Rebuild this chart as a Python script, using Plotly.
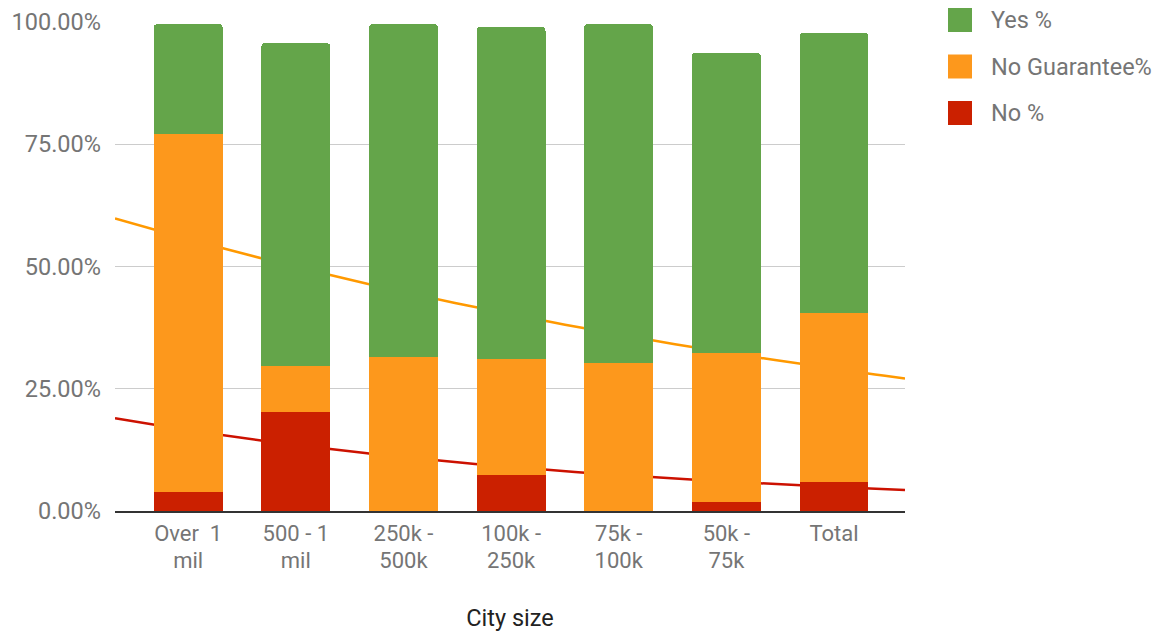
import numpy as np
import plotly.graph_objects as go

categories = ["Over  1\nmil", "500 - 1\nmil", "250k -\n500k", "100k -\n250k",
              "75k -\n100k", "50k -\n75k", "Total"]
no_pct = [3.9, 20.2, 0.0, 7.3, 0.0, 1.8, 5.9]
no_guarantee_pct = [73.2, 9.4, 31.4, 23.7, 30.2, 30.6, 34.5]
yes_pct = [22.5, 66.1, 68.2, 68.0, 69.4, 61.3, 57.4]

# trendline values read at each category position
trend_ng = [55.6, 49.9, 44.8, 40.2, 36.1, 32.4, 29.1]
trend_no = [16.5, 13.5, 11.0, 9.0, 7.4, 6.0, 4.9]

y_ticks = [0, 25, 50, 75, 100]
y_tick_labels = ["0.00%", "25.00%", "50.00%", "75.00%", "100.00%"]

series_names = ["Yes %", "No Guarantee%", "No %"]

GREEN = "#64a54a"
ORANGE = "#fd981c"
RED = "#cb2000"
TEXT = "#757575"
FONT = "Roboto, Arial, sans-serif"
FS = 23.5
FSX = 22

W, H = 1162, 633
L, R, T, B = 115, 905, 22, 511  # plot area in pixels

line1 = [c.split("\n")[0] for c in categories]
line2 = [c.split("\n")[1] if "\n" in c else "" for c in categories]

xpos = np.arange(len(categories))
x_range = [-0.68, 6.66]
xd = np.linspace(x_range[0], x_range[1], 80)


def exp_curve(vals):
    b, a = np.polyfit(xpos, np.log(vals), 1)
    return np.exp(a + b * xd)


def px(xp):
    return (xp - L) / (R - L)


def py(yp):
    return (B - yp) / (B - T)


fig = go.Figure()
# trendlines on the main axes (drawn beneath the overlaying bar axes)
fig.add_trace(go.Scatter(x=xd, y=exp_curve(trend_ng), mode="lines", xaxis="x", yaxis="y",
                         line=dict(color="#ff9900", width=2.5), showlegend=False, hoverinfo="skip"))
fig.add_trace(go.Scatter(x=xd, y=exp_curve(trend_no), mode="lines", xaxis="x", yaxis="y",
                         line=dict(color="#cc1100", width=2.5), showlegend=False, hoverinfo="skip"))

for name, vals, col in [("No %", no_pct, RED),
                        ("No Guarantee%", no_guarantee_pct, ORANGE),
                        ("Yes %", yes_pct, GREEN)]:
    fig.add_trace(go.Bar(x=xpos, y=vals, name=name, xaxis="x2", yaxis="y2",
                         marker=dict(color=col, line=dict(width=0)),
                         width=0.64, showlegend=False))

# carrier for the second line of category labels
fig.add_trace(go.Scatter(x=[0], y=[None], xaxis="x3", yaxis="y", mode="markers",
                         showlegend=False, hoverinfo="skip"))

# legend drawn as swatches + text
legend_colors = [GREEN, ORANGE, RED]
legend_y = [20, 66.5, 113]
shapes = []
annotations = []
for name, col, yc in zip(series_names, legend_colors, legend_y):
    shapes.append(dict(type="rect", xref="paper", yref="paper",
                       x0=px(948), x1=px(972), y0=py(yc + 12), y1=py(yc - 12),
                       fillcolor=col, line=dict(width=0), layer="above"))
    annotations.append(dict(xref="paper", yref="paper", x=px(989), y=py(yc), text=name,
                            showarrow=False, xanchor="left", yanchor="middle",
                            font=dict(family=FONT, size=FS, color=TEXT)))

common_x = dict(range=x_range, tickmode="array", tickvals=list(xpos),
                showgrid=False, zeroline=False, ticks="")

fig.update_layout(
    width=W, height=H,
    barmode="stack",
    barcornerradius=4,
    plot_bgcolor="white", paper_bgcolor="white",
    margin=dict(l=L, r=W - R, t=T, b=H - B, autoexpand=False),
    font=dict(family=FONT, size=FS, color=TEXT),
    showlegend=False,
    shapes=shapes,
    annotations=annotations,
    xaxis=dict(**common_x, ticktext=line1, showline=True, linecolor="#333333", linewidth=2,
               tickfont=dict(size=FSX, color=TEXT), ticklabelstandoff=2),
    xaxis2=dict(**common_x, overlaying="x", showticklabels=False, showline=False),
    xaxis3=dict(**common_x, ticktext=line2, overlaying="x", side="bottom", anchor="y",
                showline=False, tickfont=dict(size=FSX, color=TEXT), ticklabelstandoff=34,
                title=dict(text="City size", font=dict(size=FS, color="#222222"), standoff=37)),
    yaxis=dict(range=[0, 100], tickmode="array", tickvals=y_ticks, ticktext=y_tick_labels,
               showgrid=True, gridcolor="#cccccc", gridwidth=1.3,
               zeroline=False, showline=False, ticks="", ticklabelstandoff=13,
               tickfont=dict(size=FS, color=TEXT)),
    yaxis2=dict(range=[0, 100], overlaying="y", showgrid=False, zeroline=False,
                showticklabels=False, showline=False),
)

fig.write_html("out.html", config={"displayModeBar": False},
               post_script="document.body.style.margin='0';")
